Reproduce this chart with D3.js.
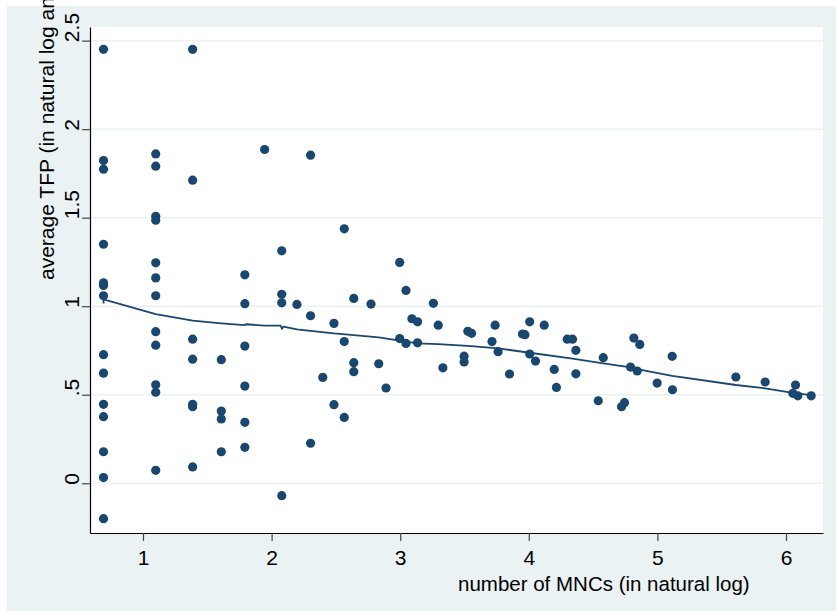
<!DOCTYPE html>
<html>
<head>
<meta charset="utf-8">
<script src="https://cdn.jsdelivr.net/npm/d3@7"></script>
<style>
  html, body { margin: 0; padding: 0; background: #ffffff; }
  svg { display: block; }
  text { font-family: "Liberation Sans", Arial, Helvetica, sans-serif; fill: #000; }
</style>
</head>
<body>
<svg id="chart" width="836" height="611"></svg>
<script>
// Number of MNCs (natural log) per observation
const mncLog = [
  0.693, 0.693, 0.693, 0.693, 0.693, 0.693, 0.693, 0.693, 0.693, 0.693, 0.693, 0.693, 0.693, 0.693,
  1.099, 1.099, 1.099, 1.099, 1.099, 1.099, 1.099, 1.099, 1.099, 1.099, 1.099, 1.099,
  1.386, 1.386, 1.386, 1.386, 1.386, 1.386, 1.386,
  1.609, 1.609, 1.609, 1.609,
  1.792, 1.792, 1.792, 1.792, 1.792, 1.792,
  1.946,
  2.079, 2.079, 2.079, 2.079,
  2.197,
  2.303, 2.303, 2.303,
  2.398,
  2.485, 2.485,
  2.565, 2.565, 2.565,
  2.639, 2.639, 2.639,
  2.773, 2.833, 2.890,
  2.996, 2.996,
  3.045, 3.045,
  3.091,
  3.135, 3.135,
  3.258, 3.296, 3.332,
  3.497, 3.497,
  3.526, 3.555, 3.714, 3.738, 3.761, 3.850, 3.951, 3.970,
  4.007, 4.007,
  4.052, 4.120, 4.198, 4.215, 4.299, 4.340,
  4.366, 4.366,
  4.540, 4.579, 4.721, 4.744, 4.791, 4.817, 4.843, 4.863,
  4.998, 5.115, 5.117, 5.610, 5.838, 6.053, 6.074, 6.092, 6.196
];

// Average TFP (natural log) per observation
const avgTfp = [
  2.451, 1.823, 1.774, 1.350, 1.132, 1.117, 1.059, 0.726, 0.622, 0.446, 0.376, 0.178, 0.032, -0.200,
  1.860, 1.791, 1.508, 1.486, 1.245, 1.160, 1.059, 0.856, 0.780, 0.556, 0.514, 0.073,
  2.451, 1.712, 0.814, 0.701, 0.446, 0.432, 0.092,
  0.698, 0.408, 0.363, 0.178,
  1.177, 1.014, 0.775, 0.549, 0.344, 0.203,
  1.885,
  1.313, 1.067, 1.019, -0.070,
  1.010,
  1.853, 0.946, 0.226,
  0.598,
  0.903, 0.444,
  1.437, 0.800, 0.372,
  1.044, 0.681, 0.630,
  1.012, 0.675, 0.538,
  1.247, 0.817,
  1.089, 0.790,
  0.929,
  0.912, 0.793,
  1.016, 0.893, 0.652,
  0.718, 0.685,
  0.858, 0.847, 0.800, 0.893, 0.743, 0.617, 0.843, 0.839,
  0.912, 0.730,
  0.690, 0.893, 0.643, 0.541, 0.814, 0.814,
  0.751, 0.618,
  0.466, 0.709, 0.432, 0.455, 0.656, 0.820, 0.634, 0.784,
  0.566, 0.717, 0.528, 0.600, 0.572, 0.508, 0.555, 0.494, 0.494
];

// Smoothed fit through the scatter
const fitX = [0.693, 0.693, 1.099, 1.386, 1.609, 1.790, 1.800, 1.946, 2.070, 2.081, 2.092, 2.197, 2.303,
              2.485, 2.639, 2.833, 2.996, 3.135, 3.296, 3.555, 3.761, 4.007, 4.340, 4.579,
              4.791, 4.843, 5.115, 5.610, 5.838, 6.053, 6.196];
const fitY = [1.015, 1.038, 0.955, 0.918, 0.903, 0.893, 0.898, 0.890, 0.890, 0.872, 0.885, 0.869, 0.861,
              0.846, 0.837, 0.824, 0.805, 0.790, 0.786, 0.775, 0.762, 0.737, 0.704, 0.677,
              0.654, 0.645, 0.607, 0.555, 0.536, 0.511, 0.498];

const xTicks = [1, 2, 3, 4, 5, 6];
const xTickLabels = ["1", "2", "3", "4", "5", "6"];
const yTicks = [0, 0.5, 1, 1.5, 2, 2.5];
const yTickLabels = ["0", ".5", "1", "1.5", "2", "2.5"];

const xTitle = "number of MNCs (in natural log)";
const yTitle = "average TFP (in natural log and";

const W = 836, H = 611;
const plot = { left: 90, right: 823, top: 27, bottom: 533 };
const navy = "#1a476f";
const regionFill = "#eaf2f3";

const svg = d3.select("#chart");

// Outer graph region
svg.append("rect")
  .attr("x", 7).attr("y", 6)
  .attr("width", W - 7).attr("height", H - 6)
  .attr("fill", regionFill);

// Plot region
svg.append("rect")
  .attr("x", plot.left).attr("y", plot.top)
  .attr("width", plot.right - plot.left).attr("height", plot.bottom - plot.top)
  .attr("fill", "#ffffff");

const x = d3.scaleLinear()
  .domain([0.5879, 6.2877])
  .range([plot.left, plot.right]);

const y = d3.scaleLinear()
  .domain([-0.281, 2.577])
  .range([plot.bottom, plot.top]);

// Horizontal grid lines
svg.append("g")
  .selectAll("line")
  .data(yTicks)
  .join("line")
  .attr("x1", plot.left).attr("x2", plot.right)
  .attr("y1", d => y(d)).attr("y2", d => y(d))
  .attr("stroke", regionFill)
  .attr("stroke-width", 1.5);

// Y axis
const yAxis = svg.append("g")
  .attr("transform", `translate(${plot.left},0)`)
  .call(d3.axisLeft(y)
    .tickValues(yTicks)
    .tickFormat((d, i) => yTickLabels[i])
    .tickSize(8)
    .tickSizeOuter(0));
yAxis.select(".domain").attr("stroke", "#000").attr("stroke-width", 1.2);
yAxis.selectAll(".tick line").attr("stroke", "#444").attr("stroke-width", 1.2);
yAxis.selectAll(".tick text")
  .attr("x", 0).attr("y", 0).attr("dy", 0)
  .attr("transform", "translate(-11,1) rotate(-90)")
  .attr("text-anchor", "start")
  .style("font-size", "21px");

// X axis
const xAxis = svg.append("g")
  .attr("transform", `translate(0,${plot.bottom})`)
  .call(d3.axisBottom(x)
    .tickValues(xTicks)
    .tickFormat((d, i) => xTickLabels[i])
    .tickSize(8)
    .tickSizeOuter(0));
xAxis.select(".domain").attr("stroke", "#000").attr("stroke-width", 1.2);
xAxis.selectAll(".tick line").attr("stroke", "#444").attr("stroke-width", 1.2);
xAxis.selectAll(".tick text")
  .attr("y", 32).attr("dy", 0)
  .style("font-size", "21px");

// Axis titles
svg.append("text")
  .attr("x", 458).attr("y", 591)
  .attr("text-anchor", "start")
  .style("font-size", "20.5px")
  .text(xTitle);

svg.append("text")
  .attr("transform", "translate(54,280) rotate(-90)")
  .attr("text-anchor", "start")
  .style("font-size", "21px")
  .text(yTitle);

// Scatter markers
const points = mncLog.map((v, i) => ({ x: v, y: avgTfp[i] }));
svg.append("g")
  .selectAll("circle")
  .data(points)
  .join("circle")
  .attr("cx", d => x(d.x))
  .attr("cy", d => y(d.y))
  .attr("r", 4.6)
  .attr("fill", navy);

// Fitted line
const fit = fitX.map((v, i) => [v, fitY[i]]);
svg.append("path")
  .datum(fit)
  .attr("fill", "none")
  .attr("stroke", navy)
  .attr("stroke-width", 1.8)
  .attr("stroke-linejoin", "round")
  .attr("d", d3.line().x(d => x(d[0])).y(d => y(d[1])));
</script>
</body>
</html>
